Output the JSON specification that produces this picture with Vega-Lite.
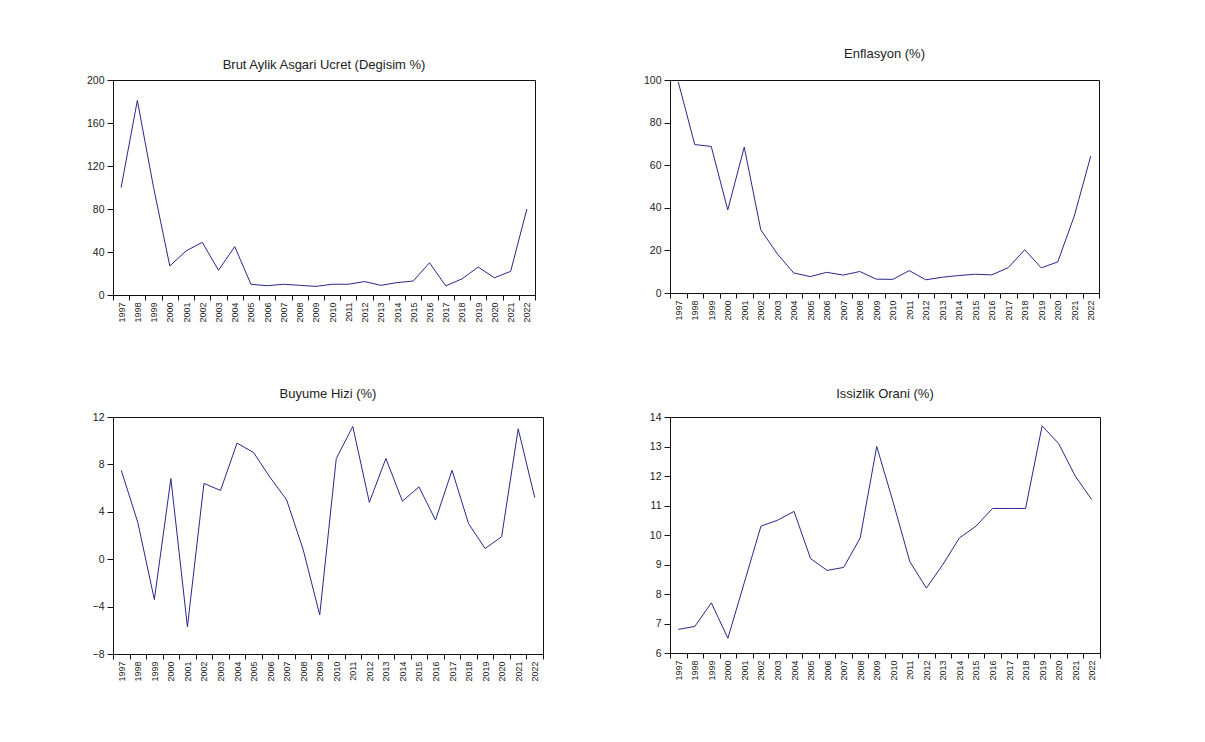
{
  "$schema": "https://vega.github.io/schema/vega-lite/v6.json",
  "background": "white",
  "padding": {"left": 84, "top": 47, "right": 0, "bottom": 0},
  "datasets": {
    "d": [
      {"year": 1997, "asgari": 100, "enflasyon": 99.1, "buyume": 7.5, "issizlik": 6.8},
      {"year": 1998, "asgari": 181, "enflasyon": 69.7, "buyume": 3.1, "issizlik": 6.9},
      {"year": 1999, "asgari": 100, "enflasyon": 68.8, "buyume": -3.4, "issizlik": 7.7},
      {"year": 2000, "asgari": 27, "enflasyon": 39.0, "buyume": 6.8, "issizlik": 6.5},
      {"year": 2001, "asgari": 41, "enflasyon": 68.5, "buyume": -5.7, "issizlik": 8.4},
      {"year": 2002, "asgari": 49, "enflasyon": 29.7, "buyume": 6.4, "issizlik": 10.3},
      {"year": 2003, "asgari": 23, "enflasyon": 18.4, "buyume": 5.8, "issizlik": 10.5},
      {"year": 2004, "asgari": 45, "enflasyon": 9.4, "buyume": 9.8, "issizlik": 10.8},
      {"year": 2005, "asgari": 10, "enflasyon": 7.7, "buyume": 9.0, "issizlik": 9.2},
      {"year": 2006, "asgari": 8.6, "enflasyon": 9.7, "buyume": 6.9, "issizlik": 8.8},
      {"year": 2007, "asgari": 10, "enflasyon": 8.4, "buyume": 5.0, "issizlik": 8.9},
      {"year": 2008, "asgari": 9, "enflasyon": 10.1, "buyume": 0.8, "issizlik": 9.9},
      {"year": 2009, "asgari": 8, "enflasyon": 6.5, "buyume": -4.7, "issizlik": 13.0},
      {"year": 2010, "asgari": 10, "enflasyon": 6.4, "buyume": 8.5, "issizlik": 11.1},
      {"year": 2011, "asgari": 10, "enflasyon": 10.5, "buyume": 11.2, "issizlik": 9.1},
      {"year": 2012, "asgari": 12.5, "enflasyon": 6.2, "buyume": 4.8, "issizlik": 8.2},
      {"year": 2013, "asgari": 9, "enflasyon": 7.4, "buyume": 8.5, "issizlik": 9.0},
      {"year": 2014, "asgari": 11.5, "enflasyon": 8.2, "buyume": 4.9, "issizlik": 9.9},
      {"year": 2015, "asgari": 13, "enflasyon": 8.8, "buyume": 6.1, "issizlik": 10.3},
      {"year": 2016, "asgari": 30, "enflasyon": 8.5, "buyume": 3.3, "issizlik": 10.9},
      {"year": 2017, "asgari": 8.5, "enflasyon": 11.9, "buyume": 7.5, "issizlik": 10.9},
      {"year": 2018, "asgari": 15, "enflasyon": 20.3, "buyume": 3.0, "issizlik": 10.9},
      {"year": 2019, "asgari": 26, "enflasyon": 11.8, "buyume": 0.9, "issizlik": 13.7},
      {"year": 2020, "asgari": 16, "enflasyon": 14.6, "buyume": 1.9, "issizlik": 13.1},
      {"year": 2021, "asgari": 22, "enflasyon": 36.1, "buyume": 11.0, "issizlik": 12.0},
      {"year": 2022, "asgari": 80, "enflasyon": 64.3, "buyume": 5.2, "issizlik": 11.2}
    ]
  },
  "config": {
    "view": {"stroke": "#111", "strokeWidth": 1},
    "axis": {
      "grid": false,
      "domainColor": "#111",
      "tickColor": "#111",
      "labelColor": "#222",
      "labelFont": "Liberation Sans",
      "labelFontSize": 10.5,
      "tickSize": 6,
      "labelPadding": 3
    },
    "axisX": {
      "labelFont": "Liberation Sans",
      "labelFontSize": 9,
      "labelAngle": -90,
      "labelAlign": "right",
      "labelBaseline": "middle",
      "tickSize": 5,
      "labelPadding": 2,
      "tickBand": "extent",
      "labelOverlap": false
    },
    "title": {
      "font": "Liberation Sans",
      "fontSize": 13,
      "fontWeight": "normal",
      "color": "#222",
      "anchor": "middle"
    },
    "line": {"color": "#28288c", "strokeWidth": 1}
  },
  "columns": 1,
  "align": "none",
  "spacing": 64,
  "concat": [
    {
      "columns": 2,
      "align": "none",
      "spacing": 103,
      "concat": [
        {
          "width": 422,
          "height": 215,
          "title": {"text": "Brut Aylik Asgari Ucret (Degisim %)", "offset": 3},
          "data": {"name": "d"},
          "mark": {"type": "line"},
          "encoding": {
            "x": {"field": "year", "type": "ordinal", "title": null, "bandPosition": 0.5,
                  "scale": {"type": "band", "paddingInner": 0, "paddingOuter": 0}},
            "y": {"field": "asgari", "type": "quantitative", "title": null,
                  "scale": {"domain": [0, 200], "nice": false},
                  "axis": {"values": [0, 40, 80, 120, 160, 200], "minExtent": 28}}
          }
        },
        {
          "width": 429,
          "height": 213,
          "title": {"text": "Enflasyon (%)", "offset": 14},
          "data": {"name": "d"},
          "mark": {"type": "line"},
          "encoding": {
            "x": {"field": "year", "type": "ordinal", "title": null, "bandPosition": 0.5,
                  "scale": {"type": "band", "paddingInner": 0, "paddingOuter": 0}},
            "y": {"field": "enflasyon", "type": "quantitative", "title": null,
                  "scale": {"domain": [0, 100], "nice": false},
                  "axis": {"values": [0, 20, 40, 60, 80, 100], "minExtent": 30}}
          }
        }
      ]
    },
    {
      "columns": 2,
      "align": "none",
      "spacing": 95,
      "concat": [
        {
          "width": 430,
          "height": 237,
          "title": {"text": "Buyume Hizi (%)", "offset": 11},
          "data": {"name": "d"},
          "mark": {"type": "line"},
          "encoding": {
            "x": {"field": "year", "type": "ordinal", "title": null, "bandPosition": 0.5,
                  "scale": {"type": "band", "paddingInner": 0, "paddingOuter": 0}},
            "y": {"field": "buyume", "type": "quantitative", "title": null,
                  "scale": {"domain": [-8, 12], "nice": false, "zero": false},
                  "axis": {"values": [-8, -4, 0, 4, 8, 12], "minExtent": 28}}
          }
        },
        {
          "width": 430,
          "height": 236,
          "title": {"text": "Issizlik Orani (%)", "offset": 11},
          "data": {"name": "d"},
          "mark": {"type": "line"},
          "encoding": {
            "x": {"field": "year", "type": "ordinal", "title": null, "bandPosition": 0.5,
                  "scale": {"type": "band", "paddingInner": 0, "paddingOuter": 0}},
            "y": {"field": "issizlik", "type": "quantitative", "title": null,
                  "scale": {"domain": [6, 14], "nice": false, "zero": false},
                  "axis": {"values": [6, 7, 8, 9, 10, 11, 12, 13, 14], "minExtent": 30}}
          }
        }
      ]
    }
  ]
}
